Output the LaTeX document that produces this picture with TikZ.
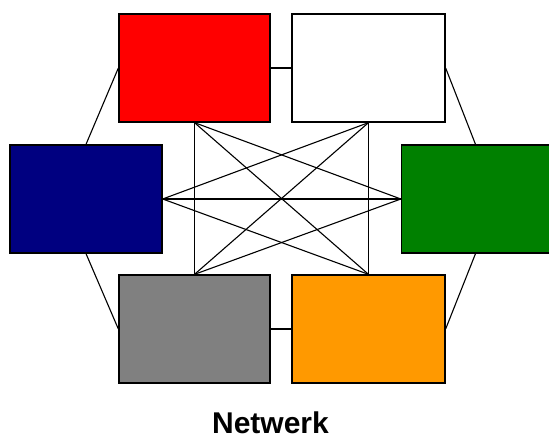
\documentclass[tikz,border=0pt]{standalone}
\usepackage{fontspec}
\setmainfont{Liberation Sans}
\definecolor{navyblue}{HTML}{000080}
\definecolor{darkgreen}{HTML}{008000}
\definecolor{midgray}{HTML}{808080}
\definecolor{amber}{HTML}{FF9900}
\begin{document}
\begin{tikzpicture}[x=1pt,y=-1pt,
  station/.style={draw=black,line width=1.3pt,rectangle,minimum height=108pt,inner sep=0pt},
  link/.style={draw=black,line width=1.1pt}]
\useasboundingbox (0,0) rectangle (549,446);
% six stations of the network
\node[station,fill=red,minimum width=151pt]       (r) at (194.5,68) {};
\node[station,fill=white,minimum width=153pt]     (w) at (368.5,68) {};
\node[station,fill=navyblue,minimum width=152pt]  (b) at (86,199) {};
\node[station,fill=darkgreen,minimum width=148pt] (g) at (475.5,199) {};
\node[station,fill=midgray,minimum width=151pt]   (y) at (194.5,329) {};
\node[station,fill=amber,minimum width=153pt]     (o) at (368.5,329) {};
% outer ring
\draw[link] (r.east) -- (w.west);
\draw[link] (y.east) -- (o.west);
\draw[link] (r.west) -- (b.north);
\draw[link] (b.south) -- (y.west);
\draw[link] (w.east) -- (g.north);
\draw[link] (g.south) -- (o.east);
% inner mesh
\draw[link] (r.south) -- (y.north);
\draw[link] (w.south) -- (o.north);
\draw[link] (r.south) -- (o.north);
\draw[link] (w.south) -- (y.north);
\draw[link] (r.south) -- (g.west);
\draw[link] (y.north) -- (g.west);
\draw[link] (b.east) -- (w.south);
\draw[link] (b.east) -- (o.north);
\draw[link] (b.east) -- (g.west);
% caption
\node[font=\bfseries\fontsize{30}{36}\selectfont,anchor=base,inner sep=0pt] (cap) at (270.5,433) {Netwerk};
\end{tikzpicture}
\end{document}
